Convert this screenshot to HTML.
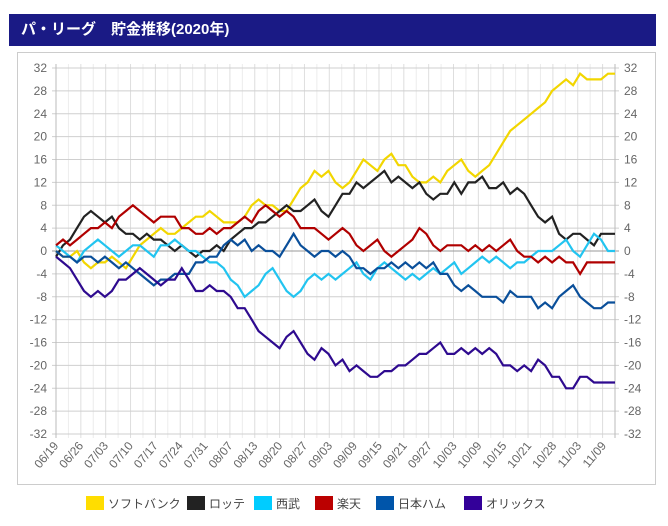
<!DOCTYPE html>
<html><head><meta charset="utf-8"><style>
body{margin:0;background:#fff;width:668px;height:526px;overflow:hidden;font-family:"Liberation Sans","Noto Sans CJK JP",sans-serif;}
#title{position:absolute;left:9px;top:14px;width:647px;height:32px;background:#1a1a85;color:#fff;font-size:15px;font-weight:bold;line-height:32px;padding-left:12px;box-sizing:border-box;font-family:"Liberation Sans","Noto Sans CJK JP",sans-serif;}
#panel{position:absolute;left:17px;top:52px;width:639px;height:433px;border:1px solid #ccc;box-sizing:border-box;}
svg{position:absolute;left:0;top:0;}
</style></head><body>
<div id="title">パ・リーグ　貯金推移(2020年)</div>
<div id="panel"></div>
<svg id="chart" width="668" height="526"></svg>
<script>
const dateLabels=["06/19","06/26","07/03","07/10","07/17","07/24","07/31","08/07","08/13","08/20","08/27","09/03","09/09","09/15","09/21","09/27","10/03","10/09","10/15","10/21","10/28","11/03","11/09"];
const yTicks=[32,28,24,20,16,12,8,4,0,-4,-8,-12,-16,-20,-24,-28,-32];
const softbank=[0,-1,-1,0,-2,-3,-2,-2,-1,-2,-3,-1,1,2,3,4,3,3,4,5,6,6,7,6,5,5,5,6,8,9,8,8,7,7,9,11,12,14,13,14,12,11,12,14,16,15,14,16,17,15,15,13,12,12,13,12,14,15,16,14,13,14,15,17,19,21,22,23,24,25,26,28,29,30,29,31,30,30,30,31,31];
const lotte=[-1,1,2,4,6,7,6,5,6,4,3,3,2,3,2,2,1,0,1,0,-1,0,0,1,0,2,3,4,4,5,5,6,7,8,7,7,8,9,7,6,8,10,10,12,11,12,13,14,12,13,12,11,12,10,9,10,10,12,10,12,12,13,11,11,12,10,11,10,8,6,5,6,3,2,3,3,2,1,3,3,3];
const seibu=[1,0,-1,-2,0,1,2,1,0,-1,0,1,1,0,-1,1,1,2,1,0,0,-1,-2,-2,-3,-5,-6,-8,-7,-6,-4,-3,-5,-7,-8,-7,-5,-4,-5,-4,-5,-4,-3,-2,-4,-5,-3,-2,-3,-4,-5,-4,-5,-4,-3,-4,-3,-2,-4,-3,-2,-1,-2,-1,-2,-3,-2,-2,-1,0,0,0,1,2,0,-1,1,3,2,0,0];
const rakuten=[1,2,1,2,3,4,4,5,4,6,7,8,7,6,5,6,6,6,4,4,3,3,4,3,4,4,5,6,5,7,8,7,6,7,6,4,4,4,3,2,3,4,3,1,0,1,2,0,-1,0,1,2,4,3,1,0,1,1,1,0,1,0,1,0,1,2,0,-1,-1,-2,-1,-2,-1,-2,-2,-4,-2,-2,-2,-2,-2];
const nipponham=[0,-1,-1,-2,-1,-1,-2,-1,-2,-3,-2,-3,-4,-5,-6,-5,-5,-4,-4,-4,-2,-2,-1,-1,1,2,1,2,0,1,0,0,-1,1,3,1,0,-1,0,0,-1,0,-1,-3,-3,-4,-3,-3,-2,-3,-2,-3,-2,-3,-2,-4,-4,-6,-7,-6,-7,-8,-8,-8,-9,-7,-8,-8,-8,-10,-9,-10,-8,-7,-6,-8,-9,-10,-10,-9,-9];
const orix=[-1,-2,-3,-5,-7,-8,-7,-8,-7,-5,-5,-4,-3,-4,-5,-6,-5,-5,-3,-5,-7,-7,-6,-7,-7,-8,-10,-10,-12,-14,-15,-16,-17,-15,-14,-16,-18,-19,-17,-18,-20,-19,-21,-20,-21,-22,-22,-21,-21,-20,-20,-19,-18,-18,-17,-16,-18,-18,-17,-18,-17,-18,-17,-18,-20,-20,-21,-20,-21,-19,-20,-22,-22,-24,-24,-22,-22,-23,-23,-23,-23];
const seriesNames=["ソフトバンク","ロッテ","西武","楽天","日本ハム","オリックス"];
const seriesKeys=["softbank","lotte","seibu","rakuten","nipponham","orix"];
const seriesData=[softbank,lotte,seibu,rakuten,nipponham,orix];
const lineColors=["#f2d600","#222222","#22c4f0","#b00000","#0a4f9a","#2e0a8f"];
const legendColors=["#ffdd00","#222222","#00ccff","#bb0000","#0055aa","#330099"];

const NS="http://www.w3.org/2000/svg";
const svg=document.getElementById('chart');
const X0=56,X1=615,Y0=434,Y1=68,YMIN=-32,YMAX=32;
const yScale=v=>Y0-(v-YMIN)/(YMAX-YMIN)*(Y0-Y1);
const xIdx=(i,n)=>X0+i*(X1-X0)/(n-1);
function mk(tag,attrs){const e=document.createElementNS(NS,tag);for(const k in attrs)e.setAttribute(k,attrs[k]);svg.appendChild(e);return e;}

const nV=Math.round((X1-X0)/12.45);
for(let i=0;i<=nV;i++){
  const x=X0+i*(X1-X0)/nV;
  const l=mk('line',{x1:x,x2:x,y1:Y1-4,y2:Y0+4,stroke:i%2?'#ececec':'#dedede','stroke-width':1});
  
  
}
yTicks.forEach(v=>{
  const y=yScale(v);
  const l=mk('line',{x1:X0-4,x2:X1+4,y1:y,y2:y,stroke:v===0?'#999':'#cfcfcf','stroke-width':1});
  
  
  const t=mk('text',{x:X0-9,y:y+4,'text-anchor':'end','font-size':12,fill:'#666'});
  t.textContent=v;
  
  
  const t2=mk('text',{x:X1+9,y:y+4,'text-anchor':'start','font-size':12,fill:'#666'});
  t2.textContent=v;
  
  
});
const ax1=mk('line',{x1:X0,x2:X0,y1:Y1-4,y2:Y0+4,stroke:'#bbb'});


const ax2=mk('line',{x1:X1,x2:X1,y1:Y1-4,y2:Y0+4,stroke:'#bbb'});


dateLabels.forEach((d,i)=>{
  const xx=X0+i*24.9;
  const t=mk('text',{x:xx+3,y:Y0+12,'text-anchor':'end','font-size':12,fill:'#666',transform:`rotate(-50 ${xx+3} ${Y0+12})`});
  t.textContent=d;
  
  
});
seriesData.forEach((arr,s)=>{
  const pts=arr.map((v,i)=>xIdx(i,arr.length).toFixed(1)+','+yScale(v).toFixed(1)).join(' ');
  const p=mk('polyline',{points:pts,fill:'none',stroke:lineColors[s],'stroke-width':2.2,'stroke-linejoin':'miter'});
  
  
});
const legendX=[86,187,254,315,376,464];
seriesNames.forEach((n,s)=>{
  const r=mk('rect',{x:legendX[s],y:496,width:18,height:14,fill:legendColors[s]});
  
  
  const t=mk('text',{x:legendX[s]+22,y:508,'font-size':12,fill:'#444'});
  t.textContent=n;
  
  
});
</script>
</body></html>
